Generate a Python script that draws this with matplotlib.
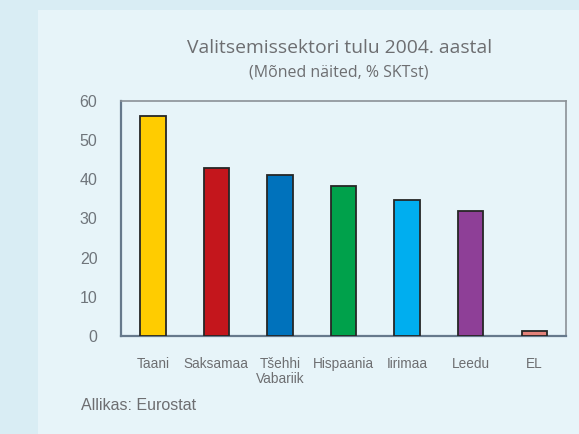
import matplotlib
matplotlib.use("Agg")
import matplotlib.pyplot as plt
from matplotlib.patches import Rectangle

categories = ["Taani", "Saksamaa", "Tšehhi\nVabariik", "Hispaania", "Iirimaa", "Leedu", "EL"]
values = [56.2, 42.9, 41.2, 38.4, 34.8, 32.0, 1.2]
colors = ["#ffcc00", "#c4161c", "#0072bc", "#00a14b", "#00aeef", "#8e3f97", "#e4827a"]
yticks = [0, 10, 20, 30, 40, 50, 60]
title = "Valitsemissektori tulu 2004. aastal"
subtitle = "(Mõned näited, % SKTst)"
source = "Allikas: Eurostat"

W, H = 579, 434
fig = plt.figure(figsize=(W / 100, H / 100), dpi=100)
fig.patch.set_facecolor("#d9edf4")
fig.patches.append(Rectangle((38 / W, 0), 1, 1 - 10 / H, transform=fig.transFigure,
                             facecolor="#e7f4f9", edgecolor="none", zorder=-5))

ax = fig.add_axes([121 / W, 1 - 336 / H, (566 - 121) / W, (336 - 101) / H])
ax.set_zorder(2)
ax.set_facecolor("#e7f4f9")
x = list(range(len(categories)))
ax.bar(x, values, width=0.4, color=colors, edgecolor="#262626", linewidth=1.3, zorder=3)
ax.set_xlim(-0.5, len(categories) - 0.5)
ax.set_ylim(0, 60)
ax.set_yticks(yticks)
ax.set_xticks(x)
ax.set_xticklabels(categories, fontsize=9.8, color="#6d6e71", family="Liberation Sans",
                   linespacing=1.15)
for lbl in ax.get_yticklabels():
    lbl.set_fontsize(11.5)
    lbl.set_color("#6f757b")
    lbl.set_family("Liberation Sans")
ax.tick_params(axis="x", length=0, pad=15)
ax.tick_params(axis="y", length=0, pad=17)
for s in ["left", "bottom"]:
    ax.spines[s].set_color("#66798c")
    ax.spines[s].set_linewidth(1.6)
for s in ["top", "right"]:
    ax.spines[s].set_color("#8b9197")
    ax.spines[s].set_linewidth(1.2)

fig.text(339.5 / W, 1 - 48 / H, title, ha="center", va="center", fontsize=13.9,
         color="#6d6e71", family="Open Sans")
fig.text(339 / W, 1 - 72.5 / H, subtitle, ha="center", va="center", fontsize=11.5,
         color="#6d6e71", family="Open Sans")
fig.text(81 / W, 1 - 406 / H, source, ha="left", va="center", fontsize=11.5,
         color="#6d6e71", family="Liberation Sans")

fig.savefig("out.png", dpi=100, facecolor=fig.get_facecolor())
